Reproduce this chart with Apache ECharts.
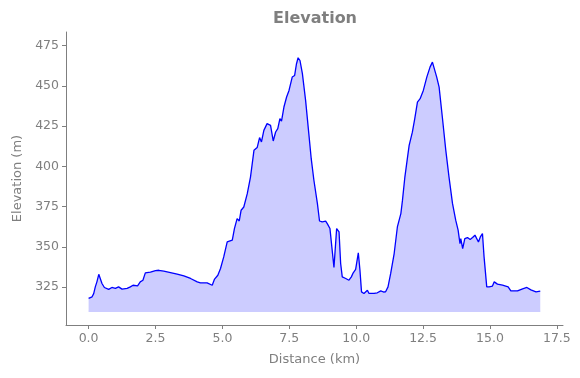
<!DOCTYPE html>
<html>
<head>
<meta charset="utf-8">
<script src="https://cdn.jsdelivr.net/npm/echarts@6/dist/echarts.min.js"></script>
<style>
  html, body { margin: 0; padding: 0; background: #fff; }
  #chart { width: 580px; height: 378px; }
</style>
</head>
<body>
<div id="chart"></div>
<script>
// distance along the route (km)
var distKm = [0, 0.13, 0.19, 0.25, 0.31, 0.38, 0.43, 0.50, 0.59, 0.75, 0.87, 1.00, 1.12, 1.25, 1.44, 1.56, 1.66, 1.71, 1.83, 1.93,
  2.03, 2.12, 2.31, 2.50, 2.62, 2.81, 3.06, 3.31, 3.56, 3.81, 4.06, 4.18, 4.43, 4.62, 4.70, 4.83, 4.93, 5.05, 5.18, 5.37,
  5.45, 5.55, 5.63, 5.70, 5.80, 5.93, 6.05, 6.18, 6.30, 6.39, 6.46, 6.55, 6.67, 6.80, 6.90, 6.99, 7.07, 7.15, 7.21, 7.30,
  7.40, 7.49, 7.61, 7.70, 7.77, 7.83, 7.90, 7.99, 8.11, 8.23, 8.32, 8.42, 8.55, 8.63, 8.73, 8.86, 8.92, 9.02, 9.09, 9.17,
  9.27, 9.36, 9.42, 9.48, 9.61, 9.73, 9.82, 9.89, 9.98, 10.08, 10.14, 10.20, 10.29, 10.42, 10.48, 10.67, 10.79, 10.92, 11.02, 11.10,
  11.19, 11.29, 11.42, 11.54, 11.67, 11.73, 11.82, 11.92, 11.98, 12.10, 12.19, 12.29, 12.39, 12.51, 12.64, 12.76, 12.85, 12.91, 13.01, 13.10,
  13.22, 13.35, 13.47, 13.60, 13.72, 13.81, 13.88, 13.91, 13.98, 14.06, 14.16, 14.26, 14.35, 14.44, 14.51, 14.57, 14.64, 14.72, 14.78, 14.88,
  14.97, 15.09, 15.16, 15.28, 15.47, 15.68, 15.78, 16.03, 16.22, 16.38, 16.53, 16.72, 16.88];
// elevation (m)
var elevM = [318, 319, 321, 325.2, 328.3, 333, 332.4, 327.3, 324.8, 323.6, 324.8, 324.2, 325.2, 323.8, 324.2, 325.2, 326.2, 325.2, 325.8, 328.3,
  329.3, 333.9, 334.3, 335.3, 335.5, 334.9, 334.1, 333.1, 332, 330.4, 328.3, 327.7, 327.7, 326.2, 329.8, 332.4, 336.6, 343.8, 353.1, 354.2,
  361.4, 367.6, 366.1, 372.8, 374.8, 383.1, 393.4, 410, 411.7, 417.9, 415.2, 422.4, 426.6, 425.5, 415.8, 421.4, 423.5, 429.7, 428.2, 436.9,
  443.1, 447.2, 455.5, 456.5, 463.8, 467.5, 465.8, 457.6, 441, 420.4, 404.8, 391.4, 377, 366.1, 365.5, 366, 364.5, 361.4, 360.9, 337.2,
  361.4, 359.3, 339.7, 331.4, 330.4, 329.3, 331.4, 333.9, 336, 346.3, 335.8, 322.1, 321.1, 323.1, 321.1, 321.1, 321.5, 322.7, 322, 322.1,
  325.2, 333.5, 345.9, 362.4, 370.7, 378.9, 393.4, 405.8, 413.1, 421.3, 429.7, 440, 442.1, 447.2, 455.5, 461.7, 464.8, 464.4, 455.5, 449.3,
  430.7, 410, 393.4, 377, 366.6, 360.4, 352.1, 355.2, 349, 355.2, 355.8, 354.6, 355.8, 357.3, 357.3, 353.1, 356.2, 358.3, 343.8, 325.2,
  325.2, 325.6, 328.3, 326.9, 326.2, 325.2, 322.7, 322.7, 324, 324.8, 323.3, 322.1, 322.5];
var baseElev = 310; // fill floor
var xTicks = [0, 2.5, 5, 7.5, 10, 12.5, 15, 17.5];
var yTicks = [325, 350, 375, 400, 425, 450, 475];

var profile = distKm.map(function (d, i) { return [d, elevM[i]]; });
var floorLine = [[distKm[0], baseElev], [distKm[distKm.length - 1], baseElev]];

var grey = '#7f7f7f';
var font = 'DejaVu Sans';

var myChart = echarts.init(document.getElementById('chart'), null, { renderer: 'canvas' });

option = {
  animation: false,
  backgroundColor: '#fff',
  title: {
    text: 'Elevation',
    left: 268,
    top: 6,
    textStyle: { color: grey, fontFamily: font, fontSize: 16, fontWeight: 'bold' }
  },
  grid: { left: 66, right: 17, top: 32, bottom: 53, containLabel: false },
  xAxis: {
    type: 'value',
    min: -0.845,
    max: 17.73,
    name: 'Distance (km)',
    nameLocation: 'middle',
    nameGap: 28,
    nameTextStyle: { color: grey, fontFamily: font, fontSize: 13 },
    axisLine: { onZero: false, lineStyle: { color: grey, width: 1 } },
    axisTick: { show: true, length: 4, customValues: xTicks, lineStyle: { color: grey } },
    axisLabel: {
      customValues: xTicks, margin: 7, color: grey, fontFamily: font, fontSize: 12.5,
      formatter: function (v) { return v.toFixed(1); }
    },
    splitLine: { show: false }
  },
  yAxis: {
    type: 'value',
    min: 301.5,
    max: 483.5,
    name: 'Elevation (m)',
    nameLocation: 'middle',
    nameGap: 42,
    nameTextStyle: { color: grey, fontFamily: font, fontSize: 13 },
    axisLine: { show: true, onZero: false, lineStyle: { color: grey, width: 1 } },
    axisTick: { show: true, length: 4, customValues: yTicks, lineStyle: { color: grey } },
    axisLabel: { customValues: yTicks, margin: 7, color: grey, fontFamily: font, fontSize: 12.5 },
    splitLine: { show: false }
  },
  series: [
    {
      name: 'floor',
      type: 'line',
      data: floorLine,
      symbol: 'none',
      silent: true,
      lineStyle: { color: 'rgba(0,0,255,0.2)', width: 1.2 },
      z: 1
    },
    {
      name: 'elevation',
      type: 'line',
      data: profile,
      symbol: 'none',
      lineStyle: { color: '#0000ff', width: 1.3 },
      areaStyle: { color: '#ccccff', origin: baseElev, opacity: 1 },
      z: 2
    }
  ]
};

myChart.setOption(option);
</script>
</body>
</html>
